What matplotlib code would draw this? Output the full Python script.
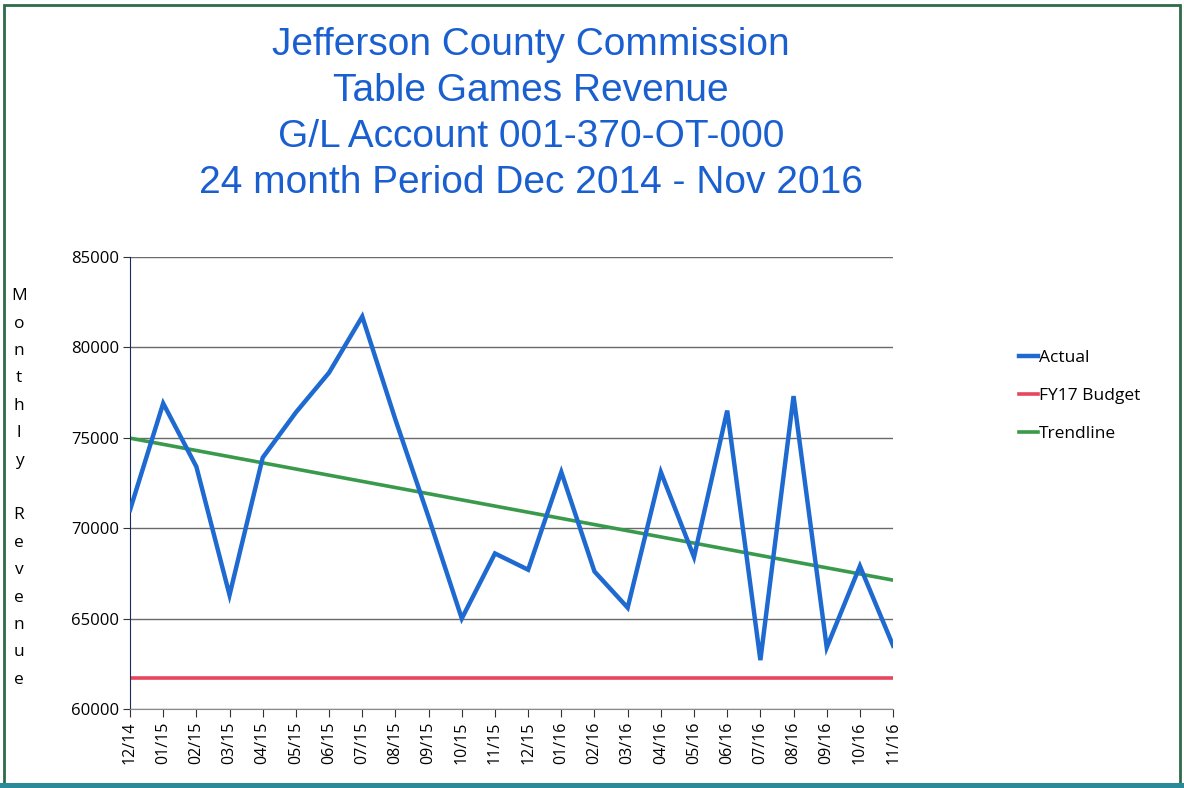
import numpy as np
import matplotlib
matplotlib.use("Agg")
import matplotlib.pyplot as plt
from matplotlib.patches import Rectangle

# datos
meses = ["12/14", "01/15", "02/15", "03/15", "04/15", "05/15", "06/15", "07/15",
         "08/15", "09/15", "10/15", "11/15", "12/15", "01/16", "02/16", "03/16",
         "04/16", "05/16", "06/16", "07/16", "08/16", "09/16", "10/16", "11/16"]
actual = [71000, 76900, 73400, 66300, 73900, 76400, 78600, 81700,
          76000, 70600, 65000, 68600, 67700, 73100, 67600, 65600,
          73100, 68400, 76500, 62700, 77300, 63400, 67900, 63500]
presupuesto = 61700
titulo = ["Jefferson County Commission", "Table Games Revenue",
          "G/L Account 001-370-OT-000", "24 month Period Dec 2014 - Nov 2016"]

x = np.arange(len(meses))
pendiente, intercepto = np.polyfit(x, actual, 1)
tendencia = pendiente * x + intercepto

fig = plt.figure(figsize=(11.84, 7.88), dpi=100)
ax = fig.add_axes([0.1098, 0.1003, 0.6445, 0.5737])

ax.plot(x, actual, color="#1f6ad0", lw=3.2, label="Actual", solid_joinstyle="miter", zorder=3)
ax.plot(x, [presupuesto] * len(x), color="#e8455e", lw=2.6, label="FY17 Budget", zorder=2)
ax.plot(x, tendencia, color="#3a9a4c", lw=2.6, label="Trendline", zorder=2)

ax.set_xlim(0, len(x) - 1)
ax.set_ylim(60000, 85000)
ax.set_yticks(np.arange(60000, 85001, 5000))
ax.set_xticks(x)
ax.set_xticklabels(meses, rotation=90, fontsize=11.5, family="Open Sans")
for t in ax.get_yticklabels():
    t.set_fontsize(12)
    t.set_family("Open Sans")
ax.yaxis.grid(True, color="#6a6a6a", lw=1)
ax.set_axisbelow(True)
for s in ["top", "right"]:
    ax.spines[s].set_visible(False)
ax.spines["left"].set_color("#1c2a5a")
ax.spines["bottom"].set_color("#8a8a8a")
ax.tick_params(axis="x", length=6, color="#333333", pad=3)
ax.tick_params(axis="y", length=5, color="#333333", pad=3)

leg = ax.legend(loc="center left", bbox_to_anchor=(1.145, 0.692), frameon=False,
                prop={"family": "Open Sans", "size": 12.5}, handlelength=1.1,
                handletextpad=0.05, labelspacing=1.25)

for i, linea in enumerate(titulo):
    fig.text(0.4485, 1 - (45 + i * 46) / 788, linea, ha="center", va="center",
             fontsize=28, color="#1a5fd0", family="Liberation Sans")

fig.text(0.016, 1 - 488 / 788, "\n".join("Monthly Revenue"), ha="center", va="center",
         fontsize=12.5, family="Open Sans", linespacing=1.95)

# marco
fig.add_artist(Rectangle((0.003, 0.004), 0.994, 0.99, transform=fig.transFigure,
                         fill=False, edgecolor="#2f6b4a", lw=2))
fig.add_artist(Rectangle((0.0, 0.0), 1.0, 0.006, transform=fig.transFigure,
                         color="#2b8a9a", lw=0))

fig.savefig("out.png", dpi=100)
